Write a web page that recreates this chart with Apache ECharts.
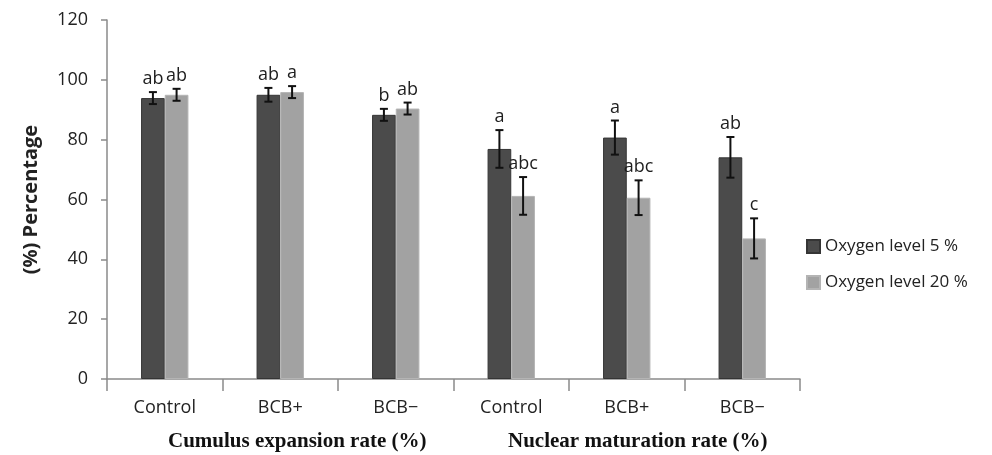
<!DOCTYPE html>
<html>
<head>
<meta charset="utf-8">
<script src="https://cdn.jsdelivr.net/npm/echarts@6/dist/echarts.min.js"></script>
<style>
  html, body { margin: 0; padding: 0; background: #fff; }
  #chart { width: 992px; height: 455px; }
</style>
</head>
<body>
<div id="chart"></div>
<script>
// Treatment groups (two assays, three groups each)
const categories = ['Control', 'BCB+', 'BCB\u2212', 'Control', 'BCB+', 'BCB\u2212'];
const groupTitles = ['Cumulus expansion rate (%)', 'Nuclear maturation rate (%)'];
const seriesNames = ['Oxygen level 5 %', 'Oxygen level 20 %'];

// Means and error (± SE) per oxygen level
const low5 = [93.9, 95.0, 88.3, 76.9, 80.7, 74.1];
const low5Err = [2.0, 2.3, 2.0, 6.3, 5.7, 6.8];
const high20 = [95.0, 95.9, 90.4, 61.2, 60.6, 47.0];
const high20Err = [2.0, 2.0, 2.0, 6.3, 5.8, 6.7];

// Significance letters
const low5Letters = ['ab', 'ab', 'b', 'a', 'a', 'ab'];
const high20Letters = ['ab', 'a', 'ab', 'abc', 'abc', 'c'];

const yTicks = { min: 0, max: 120, interval: 20 };

const BAR_GAP_CAT = 0.59;
const labelFont = '18px "Open Sans", sans-serif';

function errorSeries(values, errs, letters, shift) {
  return {
    type: 'custom',
    z: 10,
    silent: true,
    data: values.map((v, i) => [i, v, errs[i]]),
    renderItem(params, api) {
      const i = api.value(0), v = api.value(1), e = api.value(2);
      const band = api.size([1, 0])[0];
      const barW = band * (1 - BAR_GAP_CAT) / 2;
      const cx = api.coord([i, v])[0] + shift * barW / 2;
      const yTop = api.coord([i, v + e])[1];
      const yBot = api.coord([i, v - e])[1];
      const cap = 4;
      const st = { stroke: '#111', lineWidth: 2 };
      return {
        type: 'group',
        children: [
          { type: 'line', shape: { x1: cx, y1: yTop, x2: cx, y2: yBot }, style: st },
          { type: 'line', shape: { x1: cx - cap, y1: yTop, x2: cx + cap, y2: yTop }, style: st },
          { type: 'line', shape: { x1: cx - cap, y1: yBot, x2: cx + cap, y2: yBot }, style: st },
          {
            type: 'text', x: cx, y: yTop - 4,
            style: {
              text: letters[params.dataIndex], textAlign: 'center', textVerticalAlign: 'bottom',
              font: labelFont, fill: '#1e1e1e'
            }
          }
        ]
      };
    }
  };
}

const chart = echarts.init(document.getElementById('chart'), null, { renderer: 'canvas' });

chart.setOption({
  backgroundColor: '#fff',
  animation: false,
  grid: { left: 107, right: 192, top: 20, bottom: 76 },
  legend: {
    orient: 'vertical',
    left: 801, top: 233,
    itemWidth: 13, itemHeight: 13, itemGap: 19,
    icon: 'rect',
    data: seriesNames,
    textStyle: { fontFamily: 'Open Sans', fontSize: 17, color: '#222' }
  },
  xAxis: {
    type: 'category',
    data: categories,
    axisLine: { lineStyle: { color: '#8a8a8a', width: 1.5 } },
    axisTick: { show: true, length: 12, lineStyle: { color: '#8a8a8a', width: 1.5 } },
    axisLabel: { margin: 20, fontFamily: 'Open Sans', fontSize: 18, color: '#222' }
  },
  yAxis: {
    type: 'value',
    min: yTicks.min, max: yTicks.max, interval: yTicks.interval,
    name: '(%) Percentage',
    nameLocation: 'middle',
    nameGap: 66,
    nameRotate: 90,
    nameTextStyle: { fontFamily: 'Open Sans', fontWeight: 'bold', fontSize: 20, color: '#222' },
    splitLine: { show: false },
    axisLine: { show: true, lineStyle: { color: '#8a8a8a', width: 1.5 } },
    axisTick: { show: true, length: 6, lineStyle: { color: '#8a8a8a', width: 1.5 } },
    axisLabel: { margin: 19, fontFamily: 'Open Sans', fontSize: 18, color: '#222' }
  },
  graphic: [
    {
      type: 'text', left: 168, top: 431,
      style: { text: groupTitles[0], font: 'bold 21px "Liberation Serif", serif', fill: '#111' }
    },
    {
      type: 'text', left: 508, top: 431,
      style: { text: groupTitles[1], font: 'bold 21px "Liberation Serif", serif', fill: '#111' }
    }
  ],
  series: [
    {
      name: seriesNames[0], type: 'bar', data: low5,
      barGap: '0%', barCategoryGap: (BAR_GAP_CAT * 100) + '%',
      itemStyle: { color: '#4b4b4b', borderColor: '#353535', borderWidth: 1 }
    },
    {
      name: seriesNames[1], type: 'bar', data: high20,
      barGap: '0%', barCategoryGap: (BAR_GAP_CAT * 100) + '%',
      itemStyle: { color: '#a2a2a2', borderColor: '#b4b4b4', borderWidth: 1 }
    },
    errorSeries(low5, low5Err, low5Letters, -1),
    errorSeries(high20, high20Err, high20Letters, 1)
  ]
});
</script>
</body>
</html>
